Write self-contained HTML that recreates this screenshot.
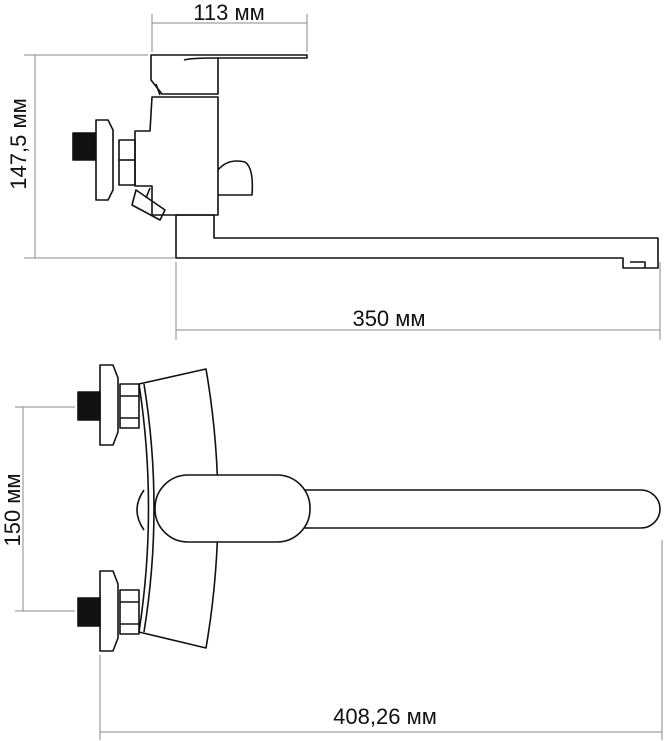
<!DOCTYPE html>
<html><head><meta charset="utf-8"><style>
html,body{margin:0;padding:0;background:#fff;}
svg{display:block;}
text{font-family:"Liberation Sans",sans-serif;fill:#111;}
</style></head><body>
<svg width="664" height="741" viewBox="0 0 664 741" xmlns="http://www.w3.org/2000/svg">
<g stroke="#888" stroke-width="1" fill="none">
 <line x1="152" y1="14" x2="152" y2="52"/>
 <line x1="307" y1="14" x2="307" y2="52"/>
 <line x1="152" y1="23" x2="307" y2="23"/>
 <line x1="24" y1="55" x2="148" y2="55"/>
 <line x1="24" y1="258" x2="175" y2="258"/>
 <line x1="35" y1="55" x2="35" y2="258"/>
 <line x1="176" y1="262" x2="176" y2="340"/>
 <line x1="660" y1="262" x2="660" y2="340"/>
 <line x1="176" y1="330" x2="660" y2="330"/>
 <line x1="15" y1="407" x2="75" y2="407"/>
 <line x1="15" y1="611" x2="75" y2="611"/>
 <line x1="23" y1="407" x2="23" y2="611"/>
 <line x1="100" y1="655" x2="100" y2="740"/>
 <line x1="662" y1="540" x2="662" y2="740"/>
 <line x1="100" y1="732" x2="662" y2="732"/>
</g>
<text x="229" y="20" font-size="22" text-anchor="middle">113 мм</text>
<text x="389" y="326" font-size="22" text-anchor="middle">350 мм</text>
<text x="385" y="724" font-size="22" text-anchor="middle">408,26 мм</text>
<text transform="translate(26,144) rotate(-90)" font-size="22" text-anchor="middle">147,5 мм</text>
<text transform="translate(20,510) rotate(-90)" font-size="22" text-anchor="middle">150 мм</text>

<g stroke="#111" stroke-width="1.6" fill="none" stroke-linejoin="round">
 <path d="M151,55 H307 V58 H218 V94 H162 L151,80 Z"/>
 <path d="M184,60 Q190,58 218,58"/>
 <path d="M156,84 L160,95"/>
 <path d="M152,97 H218 V215 H152 V186 H135 V131 H150 Z"/>
 <rect x="119" y="140" width="16" height="45"/>
 <line x1="119" y1="160" x2="135" y2="160"/>
 <path d="M96,120 H108 L113,130 V190 L108,200 H96 Z"/>
 <rect x="73" y="133" width="22" height="27" fill="#111"/>
 <path d="M218,170 Q228,158 245,162 Q254,168 252,195 H218"/>
 <path d="M150,188 L146,198 M136,190 L132,205 L160,220 L165,210 Z"/>
 <path d="M176,215 V237 M214,215 V237 M176,215 H214"/>
 <path d="M176,237 V258 H623 V268 H658 V238 H214 V237"/>
 <path d="M630,262 H645 V268"/>
 <path d="M139,384 L206,369 Q230,508 206,648 L139,632"/>
 <path d="M139,384 Q158,508 139,632"/>
 <path d="M144,384 Q164,508 144,632"/>
 <path d="M144,490 Q130,510 144,530"/>
 <rect x="120" y="384" width="19" height="44"/>
 <line x1="120" y1="396" x2="139" y2="396"/>
 <line x1="120" y1="418" x2="139" y2="418"/>
 <rect x="120" y="590" width="19" height="44"/>
 <line x1="120" y1="602" x2="139" y2="602"/>
 <line x1="120" y1="624" x2="139" y2="624"/>
 <path d="M100,365 H113 L118,378 V432 L113,445 H100 Z"/>
 <path d="M100,571 H113 L118,584 V638 L113,651 H100 Z"/>
 <rect x="78" y="392" width="22" height="28" fill="#111"/>
 <rect x="78" y="598" width="22" height="28" fill="#111"/>
 <path d="M300,490 H641 A19,19 0 0 1 641,528 H300" fill="#fff"/>
 <rect x="155" y="475" width="155" height="67" rx="33" fill="#fff"/>
</g>
</svg>
</body></html>
